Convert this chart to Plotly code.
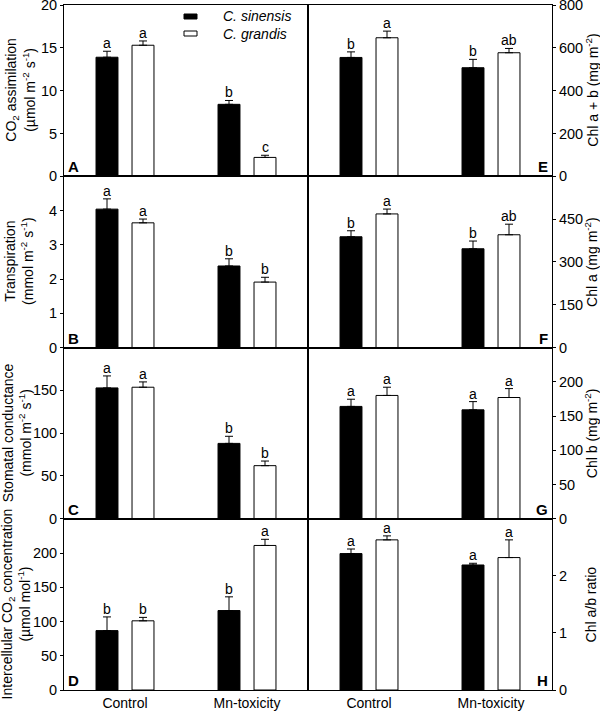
import plotly.graph_objects as go

categories = ["Control", "Mn-toxicity"]
species = ["C. sinensis", "C. grandis"]

# Panel A: CO2 assimilation
a_sin = [13.9, 8.4]; a_sin_err = [0.7, 0.45]
a_gra = [15.3, 2.2]; a_gra_err = [0.5, 0.25]
a_let_sin = ["a", "b"]; a_let_gra = ["a", "c"]
# Panel B: Transpiration
b_sin = [4.04, 2.38]; b_sin_err = [0.30, 0.21]
b_gra = [3.64, 1.91]; b_gra_err = [0.11, 0.14]
b_let_sin = ["a", "b"]; b_let_gra = ["a", "b"]
# Panel C: Stomatal conductance
c_sin = [152.8, 88.0]; c_sin_err = [14.0, 8.3]
c_gra = [153.6, 62.0]; c_gra_err = [6.2, 5.4]
c_let_sin = ["a", "b"]; c_let_gra = ["a", "b"]
# Panel D: Intercellular CO2
d_sin = [86.7, 116.0]; d_sin_err = [20.0, 20.0]
d_gra = [101.0, 211.0]; d_gra_err = [5.0, 9.0]
d_let_sin = ["b", "b"]; d_let_gra = ["b", "a"]
# Panel E: Chl a+b
e_sin = [555, 507]; e_sin_err = [26, 39]
e_gra = [647, 577]; e_gra_err = [31, 20]
e_let_sin = ["b", "b"]; e_let_gra = ["a", "ab"]
# Panel F: Chl a
f_sin = [388, 346]; f_sin_err = [21, 27]
f_gra = [468, 395]; f_gra_err = [17, 37]
f_let_sin = ["b", "b"]; f_let_gra = ["a", "ab"]
# Panel G: Chl b
g_sin = [164, 159]; g_sin_err = [10.5, 12]
g_gra = [180, 177]; g_gra_err = [12, 13]
g_let_sin = ["a", "a"]; g_let_gra = ["a", "a"]
# Panel H: Chl a/b ratio
h_sin = [2.39, 2.19]; h_sin_err = [0.08, 0.03]
h_gra = [2.63, 2.32]; h_gra_err = [0.07, 0.31]
h_let_sin = ["a", "a"]; h_let_gra = ["a", "a"]

panels = [
    dict(tag="A", col=0, row=0, sin=a_sin, se=a_sin_err, gra=a_gra, ge=a_gra_err, ls=a_let_sin, lg=a_let_gra,
         rng=[0, 20], ticks=[0, 5, 10, 15, 20], tx=20,
         title="CO<sub>2</sub> assimilation<br>(µmol m<sup>-2</sup> s<sup>-1</sup>)"),
    dict(tag="B", col=0, row=1, sin=b_sin, se=b_sin_err, gra=b_gra, ge=b_gra_err, ls=b_let_sin, lg=b_let_gra,
         rng=[0, 5], ticks=[0, 1, 2, 3, 4], tx=19,
         title="Transpiration<br>(mmol m<sup>-2</sup> s<sup>-1</sup>)"),
    dict(tag="C", col=0, row=2, sin=c_sin, se=c_sin_err, gra=c_gra, ge=c_gra_err, ls=c_let_sin, lg=c_let_gra,
         rng=[0, 200], ticks=[0, 50, 100, 150], tx=17,
         title="Stomatal conductance<br>(mmol m<sup>-2</sup> s<sup>-1</sup>)"),
    dict(tag="D", col=0, row=3, sin=d_sin, se=d_sin_err, gra=d_gra, ge=d_gra_err, ls=d_let_sin, lg=d_let_gra,
         rng=[0, 250], ticks=[0, 50, 100, 150, 200], tx=16,
         title="Intercellular CO<sub>2</sub> concentration<br>(µmol mol<sup>-1</sup>)"),
    dict(tag="E", col=1, row=0, sin=e_sin, se=e_sin_err, gra=e_gra, ge=e_gra_err, ls=e_let_sin, lg=e_let_gra,
         rng=[0, 800], ticks=[0, 200, 400, 600, 800], tx=592,
         title="Chl a + b (mg m<sup>-2</sup>)"),
    dict(tag="F", col=1, row=1, sin=f_sin, se=f_sin_err, gra=f_gra, ge=f_gra_err, ls=f_let_sin, lg=f_let_gra,
         rng=[0, 600], ticks=[0, 150, 300, 450], tx=591,
         title="Chl a (mg m<sup>-2</sup>)"),
    dict(tag="G", col=1, row=2, sin=g_sin, se=g_sin_err, gra=g_gra, ge=g_gra_err, ls=g_let_sin, lg=g_let_gra,
         rng=[0, 250], ticks=[0, 50, 100, 150, 200], tx=591,
         title="Chl b (mg m<sup>-2</sup>)"),
    dict(tag="H", col=1, row=3, sin=h_sin, se=h_sin_err, gra=h_gra, ge=h_gra_err, ls=h_let_sin, lg=h_let_gra,
         rng=[0, 3], ticks=[0, 1, 2], tx=591,
         title="Chl a/b ratio"),
]

W, H = 600, 712
ML, MR, MT, MB = 64, 48, 5, 22
PW, PH = W - ML - MR, H - MT - MB
FONT = "Arial, Liberation Sans, sans-serif"


def px_x(px):
    return (px - ML) / PW


def px_y(py):
    return (H - MB - py) / PH


xdom = [[0.0, 0.5], [0.5, 1.0]]
ydom = [[0.75, 1.0], [0.5, 0.75], [0.25, 0.5], [0.0, 0.25]]

BARGAP = 0.41
GROUPGAP = 0.39
OFF = (1 - BARGAP) / 4

fig = go.Figure()
layout = dict(
    width=W, height=H, margin=dict(l=ML, r=MR, t=MT, b=MB, autoexpand=False),
    paper_bgcolor="white", plot_bgcolor="white",
    barmode="group", bargap=BARGAP, bargroupgap=GROUPGAP,
    font=dict(family=FONT, size=14, color="black"),
    showlegend=False,
)
annotations = []
shapes = []

for i, p in enumerate(panels):
    n = i + 1
    xa = "x" if n == 1 else f"x{n}"
    ya = "y" if n == 1 else f"y{n}"
    xkey = "xaxis" if n == 1 else f"xaxis{n}"
    ykey = "yaxis" if n == 1 else f"yaxis{n}"
    fig.add_trace(go.Bar(
        x=categories, y=p["sin"], name=species[0],
        marker=dict(color="black", line=dict(color="black", width=1)),
        error_y=dict(type="data", array=p["se"], arrayminus=[0, 0], symmetric=False,
                     color="black", thickness=1, width=4),
        xaxis=xa, yaxis=ya))
    fig.add_trace(go.Bar(
        x=categories, y=p["gra"], name=species[1],
        marker=dict(color="white", line=dict(color="black", width=1)),
        error_y=dict(type="data", array=p["ge"], arrayminus=[0, 0], symmetric=False,
                     color="black", thickness=1, width=4),
        xaxis=xa, yaxis=ya))
    bottom = p["row"] == 3
    right = p["col"] == 1
    layout[xkey] = dict(
        domain=xdom[p["col"]], anchor=ya, range=[-0.5, 1.5], type="category",
        showline=True, mirror=True, linecolor="black", linewidth=1,
        ticks="", showticklabels=bottom, showgrid=False, zeroline=False,
        tickfont=dict(size=14), fixedrange=True, automargin=False,
    )
    layout[ykey] = dict(
        domain=ydom[p["row"]], anchor=xa, range=p["rng"], tickvals=p["ticks"],
        side="right" if right else "left",
        showline=True, mirror=True, linecolor="black", linewidth=1,
        ticks="outside", ticklen=3, tickwidth=1, tickcolor="black",
        showgrid=False, zeroline=False, tickfont=dict(size=14.5),
        ticklabeloverflow="allow",
        fixedrange=True, automargin=False,
    )
    # axis title
    annotations.append(dict(
        x=px_x(p["tx"]), y=(ydom[p["row"]][0] + ydom[p["row"]][1]) / 2,
        xref="paper", yref="paper", text=p["title"], textangle=-90, showarrow=False,
        xanchor="center", yanchor="middle", font=dict(size=14)))
    # significance letters
    for j in range(2):
        annotations.append(dict(x=j - OFF, y=p["sin"][j] + p["se"][j], xref=xa, yref=ya,
                                text=p["ls"][j], showarrow=False, yanchor="bottom", yshift=-2,
                                font=dict(size=14)))
        annotations.append(dict(x=j + OFF, y=p["gra"][j] + p["ge"][j], xref=xa, yref=ya,
                                text=p["lg"][j], showarrow=False, yanchor="bottom", yshift=-2,
                                font=dict(size=14)))
    # panel letter
    annotations.append(dict(
        x=xdom[p["col"]][1] if right else xdom[p["col"]][0], y=ydom[p["row"]][0],
        xref="paper", yref="paper",
        text=f"<b>{p['tag']}</b>", showarrow=False,
        xanchor="right" if right else "left", yanchor="bottom",
        xshift=-2 if right else 2, yshift=-1,
        font=dict(size=15)))

# legend drawn as key boxes + labels
leg_fill = ["black", "white"]
leg_y = [16.5, 33.5]
for k in range(2):
    shapes.append(dict(type="rect", xref="paper", yref="paper",
                       x0=px_x(184), x1=px_x(197), y0=px_y(leg_y[k] - 2.5), y1=px_y(leg_y[k] + 2.5),
                       fillcolor=leg_fill[k], line=dict(color="black", width=1)))
    annotations.append(dict(x=px_x(221), y=px_y(leg_y[k]), xref="paper", yref="paper",
                            text=f"<i>{species[k]}</i>", showarrow=False,
                            xanchor="left", yanchor="middle", font=dict(size=14)))

layout["annotations"] = annotations
layout["shapes"] = shapes
fig.update_layout(**layout)
fig.write_html("out.html", config={"displayModeBar": False},
               post_script="document.body.style.margin='0';document.body.style.overflow='hidden';")
